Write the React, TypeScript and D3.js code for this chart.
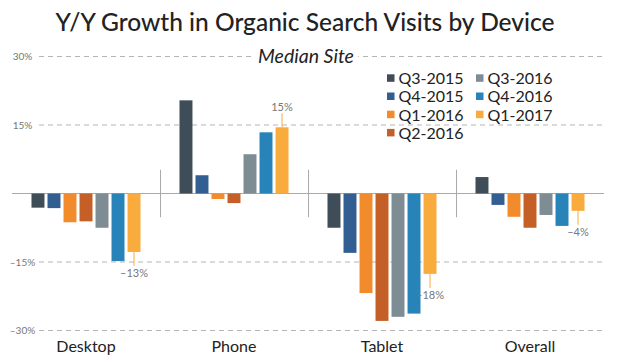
import React from 'react';
import * as d3 from 'd3';

const categories = ['Desktop', 'Phone', 'Tablet', 'Overall'];
const seriesNames = ['Q3-2015', 'Q4-2015', 'Q1-2016', 'Q2-2016', 'Q3-2016', 'Q4-2016', 'Q1-2017'];
const seriesColors = ['#3e4d57', '#335e92', '#f18b2c', '#c45f28', '#7e8c94', '#2883b9', '#f9ac3d'];

// values per category, in series order (percent)
const desktopValues = [-3.1, -3.2, -6.3, -6.1, -7.5, -14.8, -12.8];
const phoneValues = [20.4, 4.0, -1.2, -2.1, 8.6, 13.4, 14.5];
const tabletValues = [-7.5, -13.0, -21.8, -27.9, -27.0, -26.3, -17.6];
const overallValues = [3.6, -2.5, -5.1, -7.5, -4.7, -7.1, -3.8];
const valuesByCategory = [desktopValues, phoneValues, tabletValues, overallValues];

// labels on the last series (Q1-2017)
const calloutLabels = ['\u201313%', '15%', '\u201318%', '\u20134%'];

const yTicks = [30, 15, -15, -30];
const yTickLabels = ['30%', '15%', '\u201315%', '\u201330%'];

const legendCol1 = [0, 1, 2, 3];
const legendCol2 = [4, 5, 6];

const W = 624;
const H = 360;
const FONT = 'Lato, "Open Sans", sans-serif';

const App: React.FC = () => {
  const x = d3.scaleBand<string>().domain(categories).range([12, 604]);
  const inner = d3
    .scaleBand<string>()
    .domain(seriesNames)
    .range([19.5, x.bandwidth() - 19.5])
    .paddingInner(0.19);
  const y = d3.scaleLinear().domain([-30, 30]).range([330.5, 56.5]);

  const last = seriesNames.length - 1;

  return (
    <svg
      width={W}
      height={H}
      style={{ position: 'absolute', left: 0, top: 0, background: '#fff' }}
      fontFamily={FONT}
    >
      <text x={305} y={31} textAnchor="middle" fontSize={24.5} fontWeight={500} fill="#222">
        Y/Y Growth in Organic Search Visits by Device
      </text>

      {/* grid */}
      {yTicks.map((t, i) => (
        <g key={t}>
          <line
            x1={12}
            x2={604}
            y1={y(t)}
            y2={y(t)}
            stroke="#b5b5b5"
            strokeDasharray="5,4"
          />
          <text
            x={22.5}
            y={y(t) + 3.5}
            textAnchor="middle"
            fontSize={10}
            fill="#777"
            stroke="#fff"
            strokeWidth={8}
            paintOrder="stroke"
          >
            {yTickLabels[i]}
          </text>
        </g>
      ))}

      <text
        x={306}
        y={y(30) + 6.5}
        textAnchor="middle"
        fontSize={19.5}
        fontStyle="italic"
        fill="#222"
        stroke="#fff"
        strokeWidth={10}
        paintOrder="stroke"
      >
        Median Site
      </text>

      {/* zero line */}
      <line x1={12} x2={604} y1={y(0)} y2={y(0)} stroke="#aaa" strokeWidth={1} />

      {/* group separators */}
      {categories.slice(1).map(c => (
        <line
          key={c}
          x1={(x(c) as number) + 0.5}
          x2={(x(c) as number) + 0.5}
          y1={y(5.2)}
          y2={y(-5.2)}
          stroke="#aaa"
        />
      ))}

      {/* bars */}
      {categories.map((c, ci) => (
        <g key={c} transform={`translate(${x(c)},0)`}>
          {valuesByCategory[ci].map((v, si) => (
            <rect
              key={si}
              x={inner(seriesNames[si])}
              width={inner.bandwidth()}
              y={Math.min(y(v), y(0))}
              height={Math.abs(y(v) - y(0))}
              fill={seriesColors[si]}
            />
          ))}
          {(() => {
            const v = valuesByCategory[ci][last];
            const cx = (inner(seriesNames[last]) as number) + inner.bandwidth() / 2;
            const end = y(v);
            const dir = v >= 0 ? -1 : 1;
            const lineEnd = end + dir * 14;
            return (
              <g>
                <line x1={cx} x2={cx} y1={end} y2={lineEnd} stroke={seriesColors[last]} />
                <text
                  x={cx}
                  y={v >= 0 ? lineEnd - 2 : lineEnd + 11}
                  textAnchor="middle"
                  fontSize={11}
                  fill="#777"
                >
                  {calloutLabels[ci]}
                </text>
              </g>
            );
          })()}
          <text
            x={x.bandwidth() / 2}
            y={351.5}
            textAnchor="middle"
            fontSize={16}
            fill="#222"
          >
            {c}
          </text>
        </g>
      ))}

      {/* legend */}
      {[legendCol1, legendCol2].map((col, k) => (
        <g key={k} transform={`translate(${k === 0 ? 387 : 476},0)`}>
          {col.map((si, r) => (
            <g key={si} transform={`translate(0,${78.3 + r * 18.2})`}>
              <rect x={0} y={-4} width={7.5} height={7.5} fill={seriesColors[si]} />
              <text x={11.5} y={5.8} fontSize={16} fill="#222">
                {seriesNames[si]}
              </text>
            </g>
          ))}
        </g>
      ))}
    </svg>
  );
};

export default App;
